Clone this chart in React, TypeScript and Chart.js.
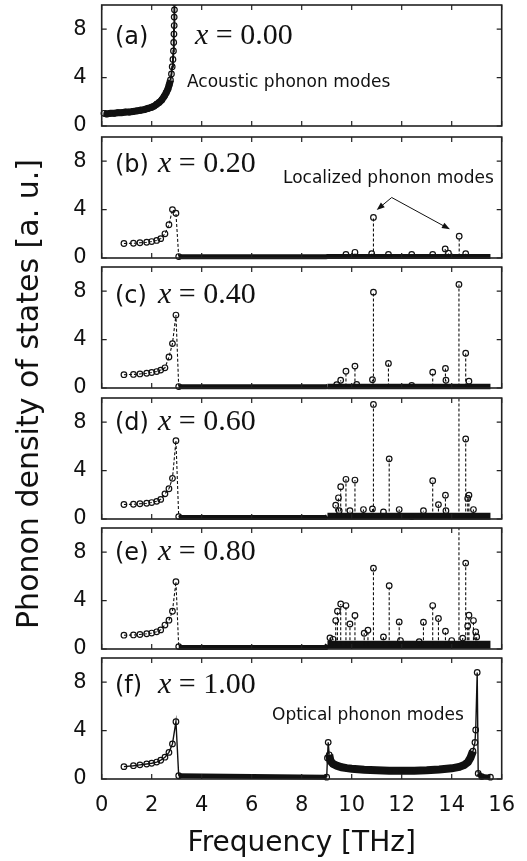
import React, { useEffect, useRef } from "react";
import { Chart, registerables } from "chart.js";
Chart.register(...registerables);

// ---------------- data ----------------
const X_TICKS = [0, 2, 4, 6, 8, 10, 12, 14, 16];
const X_TICK_LABELS = ["0", "2", "4", "6", "8", "10", "12", "14", "16"];
const Y_TICKS = [0, 4, 8];
const Y_TICK_LABELS = ["0", "4", "8"];

const PANEL_TAGS = ["(a)", "(b)", "(c)", "(d)", "(e)", "(f)"];
const COMPOSITIONS = ["0.00", "0.20", "0.40", "0.60", "0.80", "1.00"];

// (a) x = 0.00 : dense acoustic branch
const aFreq = [0.09, 0.2, 0.35, 0.5, 0.65, 0.8, 0.95, 1.1, 1.25, 1.4, 1.55, 1.7, 1.85, 2.0, 2.1, 2.2, 2.3, 2.4, 2.5, 2.58, 2.65, 2.7, 2.75, 2.79, 2.82, 2.85, 2.87, 2.88, 2.89, 2.9, 2.9, 2.91, 2.91];
const aDos = [1.05, 1.0, 1.05, 1.05, 1.1, 1.1, 1.15, 1.15, 1.2, 1.25, 1.3, 1.35, 1.45, 1.55, 1.65, 1.8, 1.95, 2.15, 2.45, 2.75, 3.05, 3.4, 3.8, 4.3, 4.9, 5.5, 6.2, 6.9, 7.6, 8.3, 9.0, 9.6, 10.2];

// acoustic part of (b)–(f)
const acFreq = [0.89, 1.27, 1.53, 1.8, 2.0, 2.2, 2.36, 2.53, 2.69, 2.83, 2.97, 3.08];
const bAcDos = [1.2, 1.22, 1.26, 1.3, 1.36, 1.45, 1.6, 2.0, 2.75, 4.0, 3.7, 0.12];
const cAcDos = [1.1, 1.12, 1.16, 1.22, 1.28, 1.36, 1.48, 1.67, 2.56, 3.67, 6.03, 0.12];
const dAcDos = [1.2, 1.22, 1.26, 1.3, 1.36, 1.46, 1.62, 2.08, 2.5, 3.36, 6.47, 0.2];
const eAcDos = [1.14, 1.16, 1.2, 1.26, 1.32, 1.42, 1.58, 1.98, 2.38, 3.12, 5.56, 0.2];

// near-zero band of (b)–(e)
const bandFreq = [3.08, 8.97, 9.03, 15.55];
const bBandDos = [0.1, 0.1, 0.12, 0.12];
const cBandDos = [0.1, 0.1, 0.12, 0.12];
const dBandDos = [0.12, 0.12, 0.22, 0.22];
const eBandDos = [0.12, 0.12, 0.35, 0.35];

// localized modes (peaks)
const bPeakFreq = [9.77, 10.13, 10.8, 10.87, 11.47, 12.4, 13.24, 13.74, 13.87, 14.3, 14.56];
const bPeakDos = [0.3, 0.47, 0.35, 3.35, 0.3, 0.3, 0.3, 0.75, 0.4, 1.8, 0.35];

const cPeakFreq = [9.4, 9.56, 9.77, 10.13, 10.2, 10.83, 10.87, 11.47, 12.4, 13.24, 13.75, 13.77, 14.29, 14.56, 14.69];
const cPeakDos = [0.28, 0.64, 1.39, 1.81, 0.3, 0.69, 7.92, 2.03, 0.22, 1.31, 1.62, 0.64, 8.56, 2.87, 0.56];

const dPeakFreq = [9.36, 9.47, 9.5, 9.56, 9.77, 9.93, 10.13, 10.47, 10.83, 10.87, 11.27, 11.5, 11.9, 12.4, 12.87, 13.24, 13.47, 13.75, 13.77, 14.29, 14.56, 14.64, 14.69, 14.87];
const dPeakDos = [1.14, 1.75, 0.69, 2.67, 3.28, 0.69, 3.22, 0.78, 0.83, 9.47, 0.58, 4.97, 0.78, 0.2, 0.69, 3.17, 1.19, 1.97, 0.69, 11.0, 6.61, 1.7, 1.97, 0.78];

const ePeakFreq = [9.13, 9.26, 9.36, 9.43, 9.56, 9.77, 9.93, 10.13, 10.5, 10.65, 10.87, 11.27, 11.5, 11.9, 11.95, 12.7, 12.87, 13.24, 13.47, 13.75, 14.0, 14.29, 14.44, 14.56, 14.64, 14.69, 14.87, 14.96, 15.0];
const ePeakDos = [0.92, 0.8, 2.35, 3.12, 3.72, 3.59, 2.07, 2.77, 1.3, 1.55, 6.68, 1.0, 5.23, 2.24, 0.7, 0.6, 2.21, 3.59, 2.52, 1.47, 0.7, 11.0, 0.9, 7.1, 1.9, 2.79, 2.35, 1.42, 1.0];

// (f) x = 1.00 : full spectrum
const fFreq = [0.89, 1.27, 1.53, 1.8, 2.0, 2.2, 2.36, 2.53, 2.69, 2.83, 2.97, 3.08, 9.0, 9.03, 9.06, 9.1, 9.15, 9.25, 9.4, 9.6, 9.8, 10.0, 10.5, 11.0, 11.5, 12.0, 12.5, 13.0, 13.5, 14.0, 14.3, 14.5, 14.65, 14.75, 14.85, 14.93, 14.96, 15.02, 15.06, 15.2, 15.55];
const fDos = [1.02, 1.1, 1.17, 1.24, 1.3, 1.4, 1.55, 1.8, 2.2, 2.9, 4.74, 0.27, 0.15, 1.74, 3.03, 2.0, 1.5, 1.25, 1.1, 0.97, 0.9, 0.85, 0.77, 0.72, 0.69, 0.68, 0.69, 0.72, 0.78, 0.88, 1.0, 1.15, 1.4, 1.75, 2.3, 3.02, 4.05, 8.81, 0.46, 0.2, 0.15];

// annotation arrow (panel b), in data coordinates
const arrowFrom = [11.6, 5.0];
const arrowTips = [[11.0, 3.97], [13.93, 2.37]];

// ---------------- layout / style ----------------
const PANEL_TOPS = [5, 137, 267, 398, 528, 658];
const PANEL_H = 121;
const PLOT_LEFT = 101.7;
const PLOT_RIGHT = 501.7;
const W = 527;
const PAD = 12;
const INK = "#111";
const SANS = "'DejaVu Sans'";

const zip = (xs: number[], ys: number[]) => xs.map((x, i) => ({ x, y: ys[i] }));
const spikes = (xs: number[], ys: number[], base: number) =>
  xs.flatMap((x, i) => [
    { x, y: base, p: 0 },
    { x, y: ys[i], p: 1 },
    { x, y: null, p: 0 },
  ]);

const pointStyle = {
  pointRadius: 2.8,
  pointBorderWidth: 1.2,
  pointBorderColor: INK,
  pointBackgroundColor: "rgba(0,0,0,0)",
  pointHoverRadius: 2.8,
};
const CLIP = { left: 6, right: 6, top: 0, bottom: 6 };

function bandSet(dos: number[], lowW: number, highW: number) {
  return {
    data: zip(bandFreq, dos),
    borderColor: INK,
    borderWidth: lowW,
    segment: { borderWidth: (c: any) => (c.p0.parsed.x < 8.99 ? lowW : highW) },
    pointRadius: 0,
    clip: CLIP,
    order: 3,
  };
}
function spikeSet(xs: number[], ys: number[], base: number) {
  return {
    data: spikes(xs, ys, base),
    borderColor: INK,
    borderWidth: 1.1,
    borderDash: [3, 2],
    spanGaps: false,
    ...pointStyle,
    pointRadius: (c: any) => (c.raw && c.raw.p ? 2.8 : 0),
    clip: CLIP,
    order: 2,
  };
}
function acSet(dos: number[]) {
  return {
    data: zip(acFreq, dos),
    borderColor: INK,
    borderWidth: 1.1,
    borderDash: [3, 2],
    ...pointStyle,
    clip: CLIP,
    order: 1,
  };
}

type Panel = {
  datasets: any[];
  tagDx: number;
  compDx: number;
  base: number;
  note?: { text: string; dx: number; dy: number };
  arrows?: boolean;
};

const PANELS: Panel[] = [
  {
    datasets: [
      {
        data: zip(aFreq, aDos),
        borderColor: INK,
        borderWidth: 6,
        segment: { borderWidth: (c: any) => (c.p1.parsed.x < 2.76 ? 7 : 2) },
        ...pointStyle,
        clip: CLIP,
      },
    ],
    tagDx: 13.3,
    compDx: 93.3,
    base: 39,
    note: { text: "Acoustic phonon modes", dx: 85.3, dy: 82 },
  },
  {
    datasets: [acSet(bAcDos), spikeSet(bPeakFreq, bPeakDos, 0.12), bandSet(bBandDos, 5, 5)],
    tagDx: 13.3,
    compDx: 56.3,
    base: 35,
    note: { text: "Localized phonon modes", dx: 181.3, dy: 46 },
    arrows: true,
  },
  {
    datasets: [acSet(cAcDos), spikeSet(cPeakFreq, cPeakDos, 0.12), bandSet(cBandDos, 5, 5.5)],
    tagDx: 13.3,
    compDx: 56.3,
    base: 36,
  },
  {
    datasets: [acSet(dAcDos), spikeSet(dPeakFreq, dPeakDos, 0.2), bandSet(dBandDos, 5, 7)],
    tagDx: 13.3,
    compDx: 56.3,
    base: 32,
  },
  {
    datasets: [acSet(eAcDos), spikeSet(ePeakFreq, ePeakDos, 0.3), bandSet(eBandDos, 5, 8)],
    tagDx: 13.3,
    compDx: 56.3,
    base: 32,
  },
  {
    datasets: [
      {
        data: zip(fFreq, fDos),
        borderColor: INK,
        borderWidth: 1.4,
        segment: {
          borderWidth: (c: any) => {
            const a = c.p0.parsed.x, b = c.p1.parsed.x;
            if (a >= 3.05 && b <= 9.01) return 5;
            if (a >= 9.09 && b <= 14.86) return 8;
            if (a >= 15.05) return 5;
            return 1.4;
          },
        },
        ...pointStyle,
        clip: CLIP,
      },
    ],
    tagDx: 13.3,
    compDx: 56.3,
    base: 35,
    note: { text: "Optical phonon modes", dx: 170.3, dy: 62 },
  },
];

// ---------------- plugins ----------------
const framePlugin = {
  id: "frame",
  afterDatasetsDraw(chart: any) {
    const { ctx, chartArea: a, scales } = chart;
    ctx.save();
    ctx.strokeStyle = "#222";
    ctx.lineWidth = 1.6;
    ctx.strokeRect(a.left, a.top, a.right - a.left, a.bottom - a.top);
    ctx.lineWidth = 1.2;
    ctx.beginPath();
    for (const t of X_TICKS) {
      const px = scales.x.getPixelForValue(t);
      ctx.moveTo(px, a.top);
      ctx.lineTo(px, a.top + 5);
      ctx.moveTo(px, a.bottom);
      ctx.lineTo(px, a.bottom - 5);
    }
    for (const t of Y_TICKS) {
      const py = scales.y.getPixelForValue(t);
      ctx.moveTo(a.left, py);
      ctx.lineTo(a.left + 5, py);
      ctx.moveTo(a.right, py);
      ctx.lineTo(a.right - 5, py);
    }
    ctx.stroke();
    ctx.restore();
  },
};

const textPlugin = {
  id: "panelText",
  afterDraw(chart: any, _args: any, opts: any) {
    const { ctx, chartArea: a, scales } = chart;
    ctx.save();
    ctx.fillStyle = INK;
    ctx.textBaseline = "alphabetic";
    ctx.textAlign = "left";
    const by = a.top + opts.base;
    ctx.font = `24px ${SANS}`;
    ctx.fillText(opts.tag, a.left + opts.tagDx, by);
    const x0 = a.left + opts.compDx;
    ctx.font = "italic 30px 'Liberation Serif'";
    ctx.fillText("x", x0, by);
    const w = ctx.measureText("x").width;
    ctx.font = "30px 'Liberation Serif'";
    ctx.fillText(" = " + opts.comp, x0 + w, by);
    if (opts.note) {
      ctx.font = `17px ${SANS}`;
      ctx.fillText(opts.note.text, a.left + opts.note.dx, a.top + opts.note.dy);
    }
    if (opts.arrows) {
      const fx = scales.x.getPixelForValue(arrowFrom[0]);
      const fy = scales.y.getPixelForValue(arrowFrom[1]);
      ctx.strokeStyle = INK;
      ctx.lineWidth = 1;
      for (const [tx0, ty0] of arrowTips) {
        const tx = scales.x.getPixelForValue(tx0);
        const ty = scales.y.getPixelForValue(ty0);
        const ang = Math.atan2(ty - fy, tx - fx);
        ctx.beginPath();
        ctx.moveTo(fx, fy);
        ctx.lineTo(tx - 6 * Math.cos(ang), ty - 6 * Math.sin(ang));
        ctx.stroke();
        ctx.beginPath();
        ctx.moveTo(tx, ty);
        ctx.lineTo(tx - 8 * Math.cos(ang) + 3 * Math.sin(ang), ty - 8 * Math.sin(ang) - 3 * Math.cos(ang));
        ctx.lineTo(tx - 8 * Math.cos(ang) - 3 * Math.sin(ang), ty - 8 * Math.sin(ang) + 3 * Math.cos(ang));
        ctx.closePath();
        ctx.fill();
      }
    }
    ctx.restore();
  },
};

// ---------------- components ----------------
function PanelChart({ idx }: { idx: number }) {
  const ref = useRef<HTMLCanvasElement | null>(null);
  const isLast = idx === PANELS.length - 1;
  const top = PANEL_TOPS[idx] - PAD;
  const height = isLast ? 861 - top : PANEL_H + 2 * PAD;

  useEffect(() => {
    const p = PANELS[idx];
    const chart = new Chart(ref.current as HTMLCanvasElement, {
      type: "line",
      data: { datasets: p.datasets },
      options: {
        responsive: false,
        animation: false,
        events: [],
        layout: { padding: { left: 0, right: W - PLOT_RIGHT, top: PAD, bottom: isLast ? 0 : PAD } },
        plugins: {
          legend: { display: false },
          tooltip: { enabled: false },
          panelText: {
            tag: PANEL_TAGS[idx],
            comp: COMPOSITIONS[idx],
            tagDx: p.tagDx,
            compDx: p.compDx,
            base: p.base,
            note: p.note,
            arrows: p.arrows,
          },
        } as any,
        scales: {
          x: {
            type: "linear",
            min: 0,
            max: 16,
            display: isLast,
            afterBuildTicks: (s: any) => {
              s.ticks = X_TICKS.map((v) => ({ value: v }));
            },
            afterFit: (s: any) => {
              if (isLast) s.height = height - PAD - PANEL_H;
              s.paddingLeft = 0;
              s.paddingRight = 0;
            },
            grid: { display: false, drawTicks: false },
            border: { display: false },
            ticks: {
              padding: 14,
              color: INK,
              font: { family: "DejaVu Sans", size: 21 },
              maxRotation: 0,
              autoSkip: false,
              callback: (v: any) => X_TICK_LABELS[X_TICKS.indexOf(Number(v))] ?? "",
            },
            title: {
              display: true,
              text: "Frequency [THz]",
              color: INK,
              font: { family: "DejaVu Sans", size: 28 },
              padding: { top: 0, bottom: 0 },
            },
          },
          y: {
            min: 0,
            max: 10,
            afterBuildTicks: (s: any) => {
              s.ticks = Y_TICKS.map((v) => ({ value: v }));
            },
            afterFit: (s: any) => {
              s.width = PLOT_LEFT;
              s.paddingTop = 0;
              s.paddingBottom = 0;
            },
            grid: { display: false, drawTicks: false },
            border: { display: false },
            ticks: {
              padding: 15,
              color: INK,
              font: { family: "DejaVu Sans", size: 21 },
              autoSkip: false,
              callback: (v: any) => Y_TICK_LABELS[Y_TICKS.indexOf(Number(v))] ?? "",
            },
          },
        },
      } as any,
      plugins: [framePlugin as any, textPlugin as any],
    });
    return () => chart.destroy();
  }, [idx]);

  return (
    <canvas
      ref={ref}
      width={W}
      height={height}
      style={{ position: "absolute", left: 0, top, width: W, height }}
    />
  );
}

export default function App() {
  return (
    <div
      style={{
        position: "absolute",
        left: 0,
        top: 0,
        width: W,
        height: 861,
        background: "#fff",
        overflow: "hidden",
      }}
    >
      {PANELS.map((_, i) => (
        <PanelChart key={i} idx={i} />
      ))}
      <div
        style={{
          position: "absolute",
          left: 28 - 300,
          top: 394 - 20,
          width: 600,
          height: 40,
          lineHeight: "40px",
          textAlign: "center",
          transform: "rotate(-90deg)",
          fontFamily: "'DejaVu Sans'",
          fontSize: 30,
          color: INK,
          whiteSpace: "nowrap",
        }}
      >
        Phonon density of states [a. u.]
      </div>
    </div>
  );
}
